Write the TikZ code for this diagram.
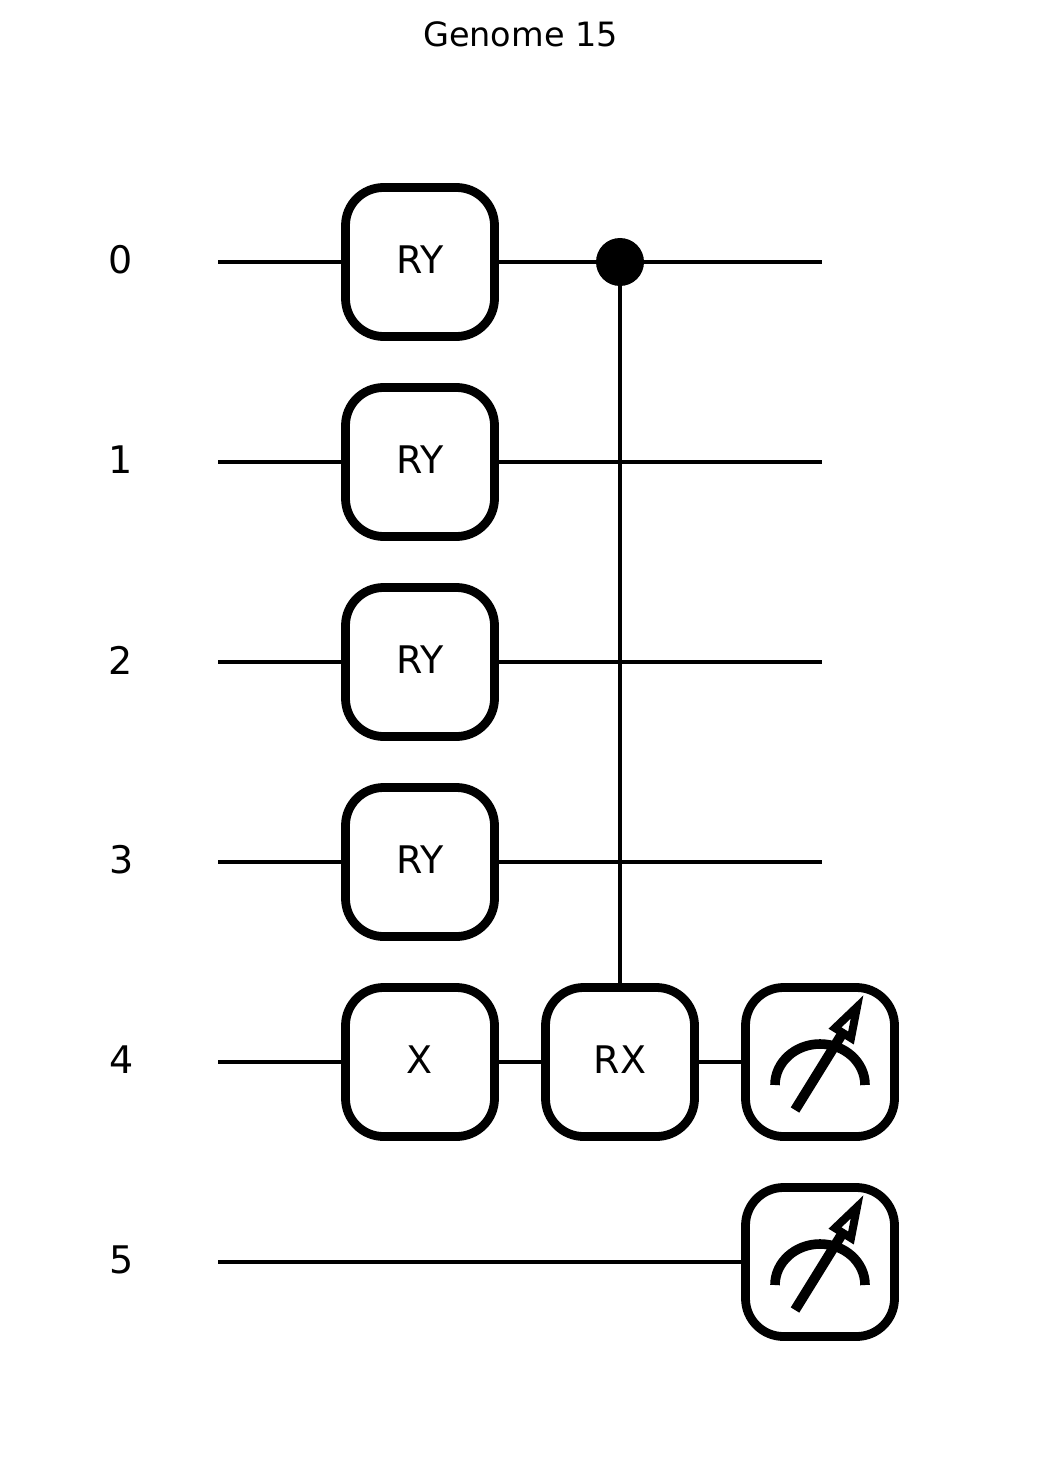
\documentclass[tikz,border=0pt]{standalone}
\usepackage{fontspec}
\setmainfont{DejaVu Sans}
\usepackage{xcolor}
\tikzset{
  gatebox/.style={rectangle, draw, fill=white, line width=4.4pt, rounded corners=19pt, minimum size=74.5pt, inner sep=0pt, outer sep=0pt, text depth=2.2pt, font=\fontsize{19}{19}\selectfont},
  wire/.style={line width=2pt},
  ctrldot/.style={circle, fill=black, minimum size=24pt, inner sep=0pt, outer sep=0pt},
  qlabel/.style={font=\fontsize{19}{19}\selectfont, inner sep=0pt},
  meter/.pic={
    \draw[line width=4.8pt] (-45,23) arc[start angle=180, end angle=360, x radius=45, y radius=41];
    \draw[line width=5pt] (-25,48) -- (22,-28);
    \draw[line width=4pt, miter limit=10] (37,-55) -- (15,-34) -- (31,-24) -- cycle;
  }
}
\begin{document}
\begin{tikzpicture}[x=0.5pt, y=-0.5pt]
\useasboundingbox (0,0) rectangle (1039,1482);
\node[font=\fontsize{16.75}{16.75}\selectfont, inner sep=0pt] (title) at (520.5,34) {Genome 15};

% qubit labels
\foreach \q/\xq in {0/121,1/121,2/121,3/122,4/122,5/122} {
  \node[qlabel] (label\q) at (\xq,260+200*\q) {\q};
  \coordinate (start\q) at (218,262+200*\q);
}
\foreach \q in {0,...,3} {
  \coordinate (end\q) at (822,262+200*\q);
  \node[gatebox] (ry\q) at (420,262+200*\q) {RY};
  \draw[wire] (start\q) -- (ry\q);
  \draw[wire] (ry\q) -- (end\q);
}
\node[gatebox] (x4) at (420,1062) {X};
\node[gatebox] (rx4) at (620,1062) {RX};
\node[gatebox] (m4) at (820,1062) {};
\node[gatebox] (m5) at (820,1262) {};
\node[ctrldot] (ctrl0) at (620,262) {};

\draw[wire] (start4) -- (x4);
\draw[wire] (x4) -- (rx4);
\draw[wire] (rx4) -- (m4);
\draw[wire] (start5) -- (m5);
\draw[wire] (ctrl0) -- (rx4);

\pic at (m4) {meter};
\pic at (m5) {meter};
\end{tikzpicture}
\end{document}
